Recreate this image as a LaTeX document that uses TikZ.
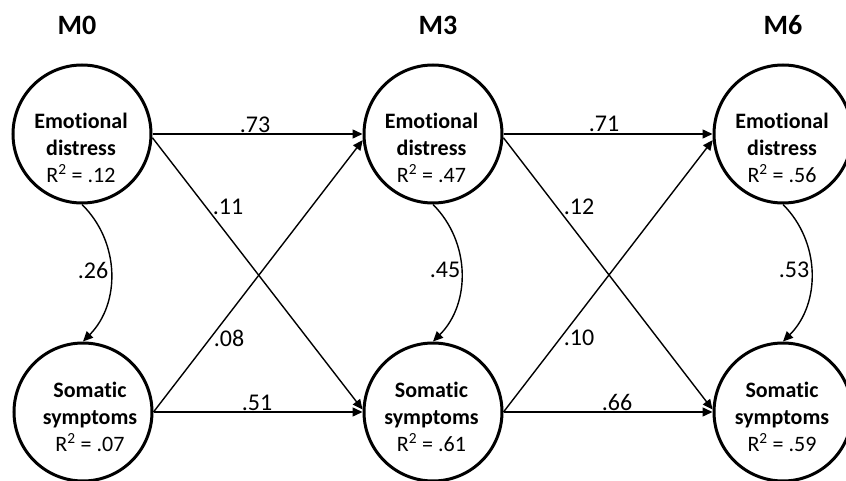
\documentclass[tikz,border=0pt]{standalone}
\usepackage{fontspec}
\setmainfont{Carlito}[Ligatures=NoCommon]
\usetikzlibrary{arrows.meta}
\begin{document}
\begin{tikzpicture}[x=1pt,y=-1pt,
  var/.style={circle, draw, line width=3pt, minimum size=138pt, inner sep=0pt},
  vtext/.style={align=center, inner sep=0pt, font=\fontsize{22}{27}\selectfont},
  wavetitle/.style={font=\fontsize{28}{32}\selectfont\bfseries, inner sep=0pt},
  coef/.style={font=\fontsize{24}{28}\selectfont, inner sep=0pt},
  conn/.style={line width=1.4pt, -{Triangle[length=10pt,width=9pt]}},
]
\useasboundingbox (0,0) rectangle (846,481);

% wave titles
\node[wavetitle] (t0) at (77,25) {M0};
\node[wavetitle] (t3) at (438,25) {M3};
\node[wavetitle] (t6) at (783,25) {M6};

% circles
\node[var] (e0) at (82,134) {};
\node[var] (e3) at (433,134) {};
\node[var] (e6) at (783,134) {};
\node[var] (s0) at (83,412) {};
\node[var] (s3) at (433,412) {};
\node[var] (s6) at (783,412) {};

% circle texts
\node[vtext] (e0t) at (81,147.5) {\textbf{Emotional}\\\textbf{distress}\\R\textsuperscript{2} = .12};
\node[vtext] (e3t) at (431.5,147.5) {\textbf{Emotional}\\\textbf{distress}\\R\textsuperscript{2} = .47};
\node[vtext] (e6t) at (782,147.5) {\textbf{Emotional}\\\textbf{distress}\\R\textsuperscript{2} = .56};
\node[vtext] (s0t) at (90,416.5) {\textbf{Somatic}\\\textbf{symptoms}\\R\textsuperscript{2} = .07};
\node[vtext] (s3t) at (431.5,416.5) {\textbf{Somatic}\\\textbf{symptoms}\\R\textsuperscript{2} = .61};
\node[vtext] (s6t) at (782,416.5) {\textbf{Somatic}\\\textbf{symptoms}\\R\textsuperscript{2} = .59};

% connectors M0 -> M3
\draw[conn] (e0.east) -- (e3.west);
\draw[conn] (e0.-3) -- (s3.178);
\draw[conn] (s0.east) -- (e3.185);
\draw[conn] (s0.east) -- (s3.west);
% connectors M3 -> M6
\draw[conn] (e3.east) -- (e6.west);
\draw[conn] (e3.-3) -- (s6.178);
\draw[conn] (s3.east) -- (e6.185);
\draw[conn] (s3.east) -- (s6.west);
% covariances
\draw[conn] (e0.south) to[bend left=45] (s0.north);
\draw[conn] (e3.south) to[bend left=45] (s3.north);
\draw[conn] (e6.south) to[bend left=45] (s6.north);

% coefficients
\node[coef] (c73) at (255,125) {.73};
\node[coef] (c11) at (228,207) {.11};
\node[coef] (c08) at (229,338) {.08};
\node[coef] (c51) at (257,403) {.51};
\node[coef] (c71) at (604,124) {.71};
\node[coef] (c12) at (579,207) {.12};
\node[coef] (c10) at (579,338) {.10};
\node[coef] (c66) at (617,402) {.66};
\node[coef] (c26) at (93,270) {.26};
\node[coef] (c45) at (445,270) {.45};
\node[coef] (c53) at (794,270) {.53};
\end{tikzpicture}
\end{document}
